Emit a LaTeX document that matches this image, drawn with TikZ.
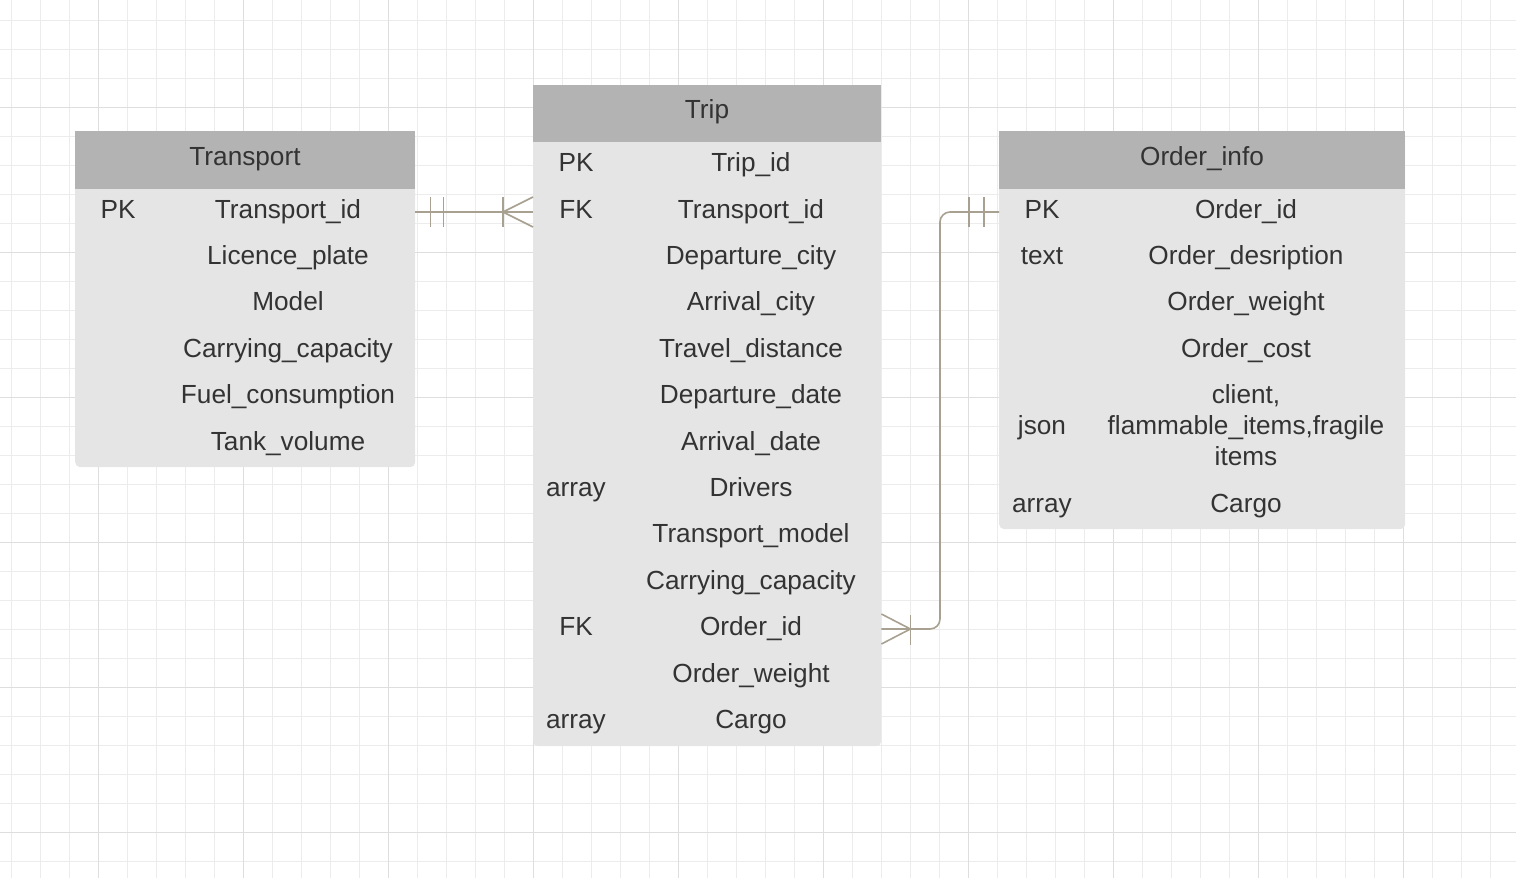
\documentclass[tikz,border=0pt]{standalone}
\usepackage{fontspec}
\setmainfont{Liberation Sans}
\definecolor{txt}{RGB}{51,51,51}
\definecolor{hdrgray}{RGB}{179,179,179}
\definecolor{bodygray}{RGB}{229,229,229}
\definecolor{relcol}{RGB}{168,160,144}
\definecolor{gridminor}{RGB}{236,236,236}
\definecolor{gridmajor}{RGB}{222,222,222}
\tikzset{
  hdr/.style={fill=hdrgray, draw=none, anchor=north west, inner sep=0pt},
  tbody/.style={fill=bodygray, draw=none, rounded corners=5pt, anchor=north west, inner sep=0pt},
  cell/.style={anchor=base, inner sep=0pt, text=txt, font=\fontsize{26.2}{31}\selectfont},
  rel/.style={draw=relcol, line width=1.6pt},
}
\begin{document}
\begin{tikzpicture}[x=1pt,y=-1pt]
\useasboundingbox (0,0) rectangle (1516,878);
% grid
\foreach \x in {11,40,...,1516} \draw[gridminor, line width=1pt] (\x,0) -- (\x,878);
\foreach \y in {20,49,...,878} \draw[gridminor, line width=1pt] (0,\y) -- (1516,\y);
\foreach \x in {98,243,...,1516} \draw[gridmajor, line width=1pt] (\x,0) -- (\x,878);
\foreach \y in {107,252,...,878} \draw[gridmajor, line width=1pt] (0,\y) -- (1516,\y);

% ---------- Transport ----------
\node[tbody, minimum width=340pt, minimum height=336pt] (transport) at (75,131) {};
\node[hdr, minimum width=340pt, minimum height=58pt] (transporthdr) at (75,131) {};
\node[cell] (transporttitle) at (245,165) {Transport};
\node[cell] (tpk) at (118,218) {PK};
\node[cell] (t1) at (288,218) {Transport\_id};
\node[cell] (t2) at (288,264) {Licence\_plate};
\node[cell] (t3) at (288,310) {Model};
\node[cell] (t4) at (288,357) {Carrying\_capacity};
\node[cell] (t5) at (288,403) {Fuel\_consumption};
\node[cell] (t6) at (288,450) {Tank\_volume};

% ---------- Trip ----------
\node[tbody, minimum width=348pt, minimum height=661pt] (trip) at (533,85) {};
\node[hdr, minimum width=348pt, minimum height=57pt] (triphdr) at (533,85) {};
\node[cell] (triptitle) at (707,118) {Trip};
\node[cell] (k1) at (576,171) {PK};
\node[cell] (k2) at (576,218) {FK};
\node[cell] (k8) at (576,496) {array};
\node[cell] (k11) at (576,635) {FK};
\node[cell] (k13) at (576,728) {array};
\node[cell] (r1) at (751,171) {Trip\_id};
\node[cell] (r2) at (751,218) {Transport\_id};
\node[cell] (r3) at (751,264) {Departure\_city};
\node[cell] (r4) at (751,310) {Arrival\_city};
\node[cell] (r5) at (751,357) {Travel\_distance};
\node[cell] (r6) at (751,403) {Departure\_date};
\node[cell] (r7) at (751,450) {Arrival\_date};
\node[cell] (r8) at (751,496) {Drivers};
\node[cell] (r9) at (751,542) {Transport\_model};
\node[cell] (r10) at (751,589) {Carrying\_capacity};
\node[cell] (r11) at (751,635) {Order\_id};
\node[cell] (r12) at (751,682) {Order\_weight};
\node[cell] (r13) at (751,728) {Cargo};

% ---------- Order_info ----------
\node[tbody, minimum width=406pt, minimum height=398pt] (order) at (999,131) {};
\node[hdr, minimum width=406pt, minimum height=58pt] (orderhdr) at (999,131) {};
\node[cell] (ordertitle) at (1202,165) {Order\_info};
\node[cell] (ok1) at (1042,218) {PK};
\node[cell] (ok2) at (1042,264) {text};
\node[cell] (ok5) at (1042,434) {json};
\node[cell] (ok6) at (1042,512) {array};
\node[cell] (o1) at (1246,218) {Order\_id};
\node[cell] (o2) at (1246,264) {Order\_desription};
\node[cell] (o3) at (1246,310) {Order\_weight};
\node[cell] (o4) at (1246,357) {Order\_cost};
\node[cell] (o5a) at (1246,403) {client,};
\node[cell] (o5b) at (1246,434) {flammable\_items,fragile};
\node[cell] (o5c) at (1246,465) {items};
\node[cell] (o6) at (1246,512) {Cargo};

% ---------- connectors ----------
\coordinate (c1s) at (transport.east |- 0,212);
\coordinate (c1e) at (trip.west |- 0,212);
\draw[rel] (c1s) -- (c1e);
\draw[rel] ([xshift=15pt]c1s) ++(0,-15) -- ++(0,30);
\draw[rel] ([xshift=28pt]c1s) ++(0,-15) -- ++(0,30);
\draw[rel] ([xshift=-30pt]c1e) ++(0,-15) -- ++(0,30);
\draw[rel] ([yshift=-15pt]c1e) -- ([xshift=-30pt]c1e) -- ([yshift=15pt]c1e);

\coordinate (c2s) at (trip.east |- 0,629);
\coordinate (c2e) at (order.west |- 0,212);
\draw[rel, rounded corners=10pt] (c2s) -- (940,629) -- (940,212) -- (c2e);
\draw[rel] ([xshift=29pt]c2s) ++(0,-14) -- ++(0,30);
\draw[rel] ([yshift=-15pt]c2s) -- ([xshift=29pt]c2s) -- ([yshift=15pt]c2s);
\draw[rel] ([xshift=-30pt]c2e) ++(0,-15) -- ++(0,30);
\draw[rel] ([xshift=-15pt]c2e) ++(0,-15) -- ++(0,30);
\end{tikzpicture}
\end{document}
